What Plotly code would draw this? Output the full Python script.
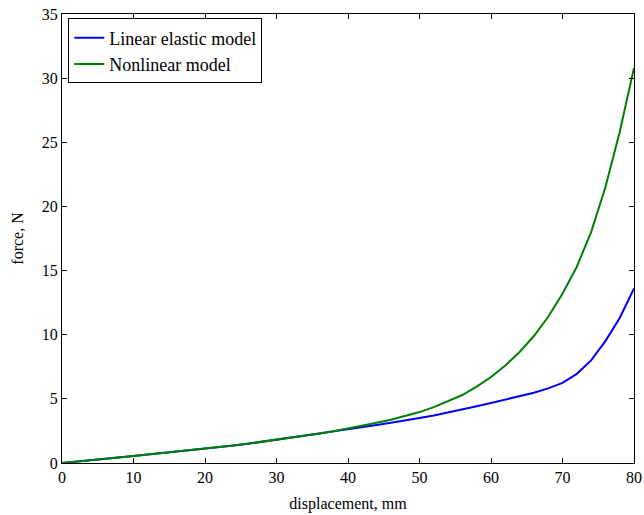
import plotly.graph_objects as go

displacement = [0, 2, 4, 6, 8, 10, 12, 14, 16, 18, 20, 22, 24, 26, 28, 30, 32, 34, 36, 38, 40,
                42, 44, 46, 48, 50, 52, 54, 56, 58, 60, 62, 64, 66, 68, 70, 72, 74, 76, 78, 80]
force_linear = [0, 0.1, 0.2, 0.32, 0.43, 0.55, 0.66, 0.77, 0.88, 0.99, 1.1, 1.23, 1.36, 1.5, 1.65,
                1.8, 1.96, 2.12, 2.3, 2.47, 2.65, 2.82, 2.97, 3.13, 3.3, 3.5, 3.7, 3.93, 4.17, 4.42,
                4.68, 4.94, 5.2, 5.48, 5.82, 6.25, 6.95, 8.0, 9.5, 11.3, 13.6]
force_nonlinear = [0, 0.1, 0.2, 0.32, 0.43, 0.55, 0.66, 0.77, 0.88, 0.99, 1.1, 1.23, 1.36, 1.5, 1.65,
                   1.8, 1.96, 2.12, 2.3, 2.48, 2.68, 2.9, 3.13, 3.37, 3.64, 3.97, 4.36, 4.8, 5.3,
                   5.95, 6.7, 7.6, 8.65, 9.9, 11.4, 13.2, 15.3, 18.0, 21.5, 25.8, 30.8]

fig = go.Figure()
fig.add_trace(go.Scatter(x=displacement, y=force_linear, mode="lines",
                         name="Linear elastic model", line=dict(color="#0000ff", width=2)))
fig.add_trace(go.Scatter(x=displacement, y=force_nonlinear, mode="lines",
                         name="Nonlinear model", line=dict(color="#008000", width=2)))

axis_common = dict(showline=True, linecolor="black", linewidth=1, mirror="ticks",
                   ticks="inside", ticklen=5, tickcolor="black", showgrid=False,
                   zeroline=False, automargin=False, tickfont=dict(size=16, color="black"))
fig.update_xaxes(range=[0, 80], dtick=10,
                 title=dict(text="displacement, mm", font=dict(size=16), standoff=12),
                 **axis_common)
fig.update_yaxes(range=[0, 35], dtick=5,
                 title=dict(text="force, N", font=dict(size=16), standoff=14),
                 **axis_common)
fig.update_layout(
    width=644, height=515,
    margin=dict(l=62, r=10, t=14, b=52),
    plot_bgcolor="white", paper_bgcolor="white",
    font=dict(family="Liberation Serif", color="black", size=16),
    legend=dict(x=0.011, y=0.99, xanchor="left", yanchor="top",
                bordercolor="black", borderwidth=1, bgcolor="white",
                font=dict(size=18), tracegroupgap=0, itemwidth=30),
    showlegend=True,
)
fig.write_html("out.html")
